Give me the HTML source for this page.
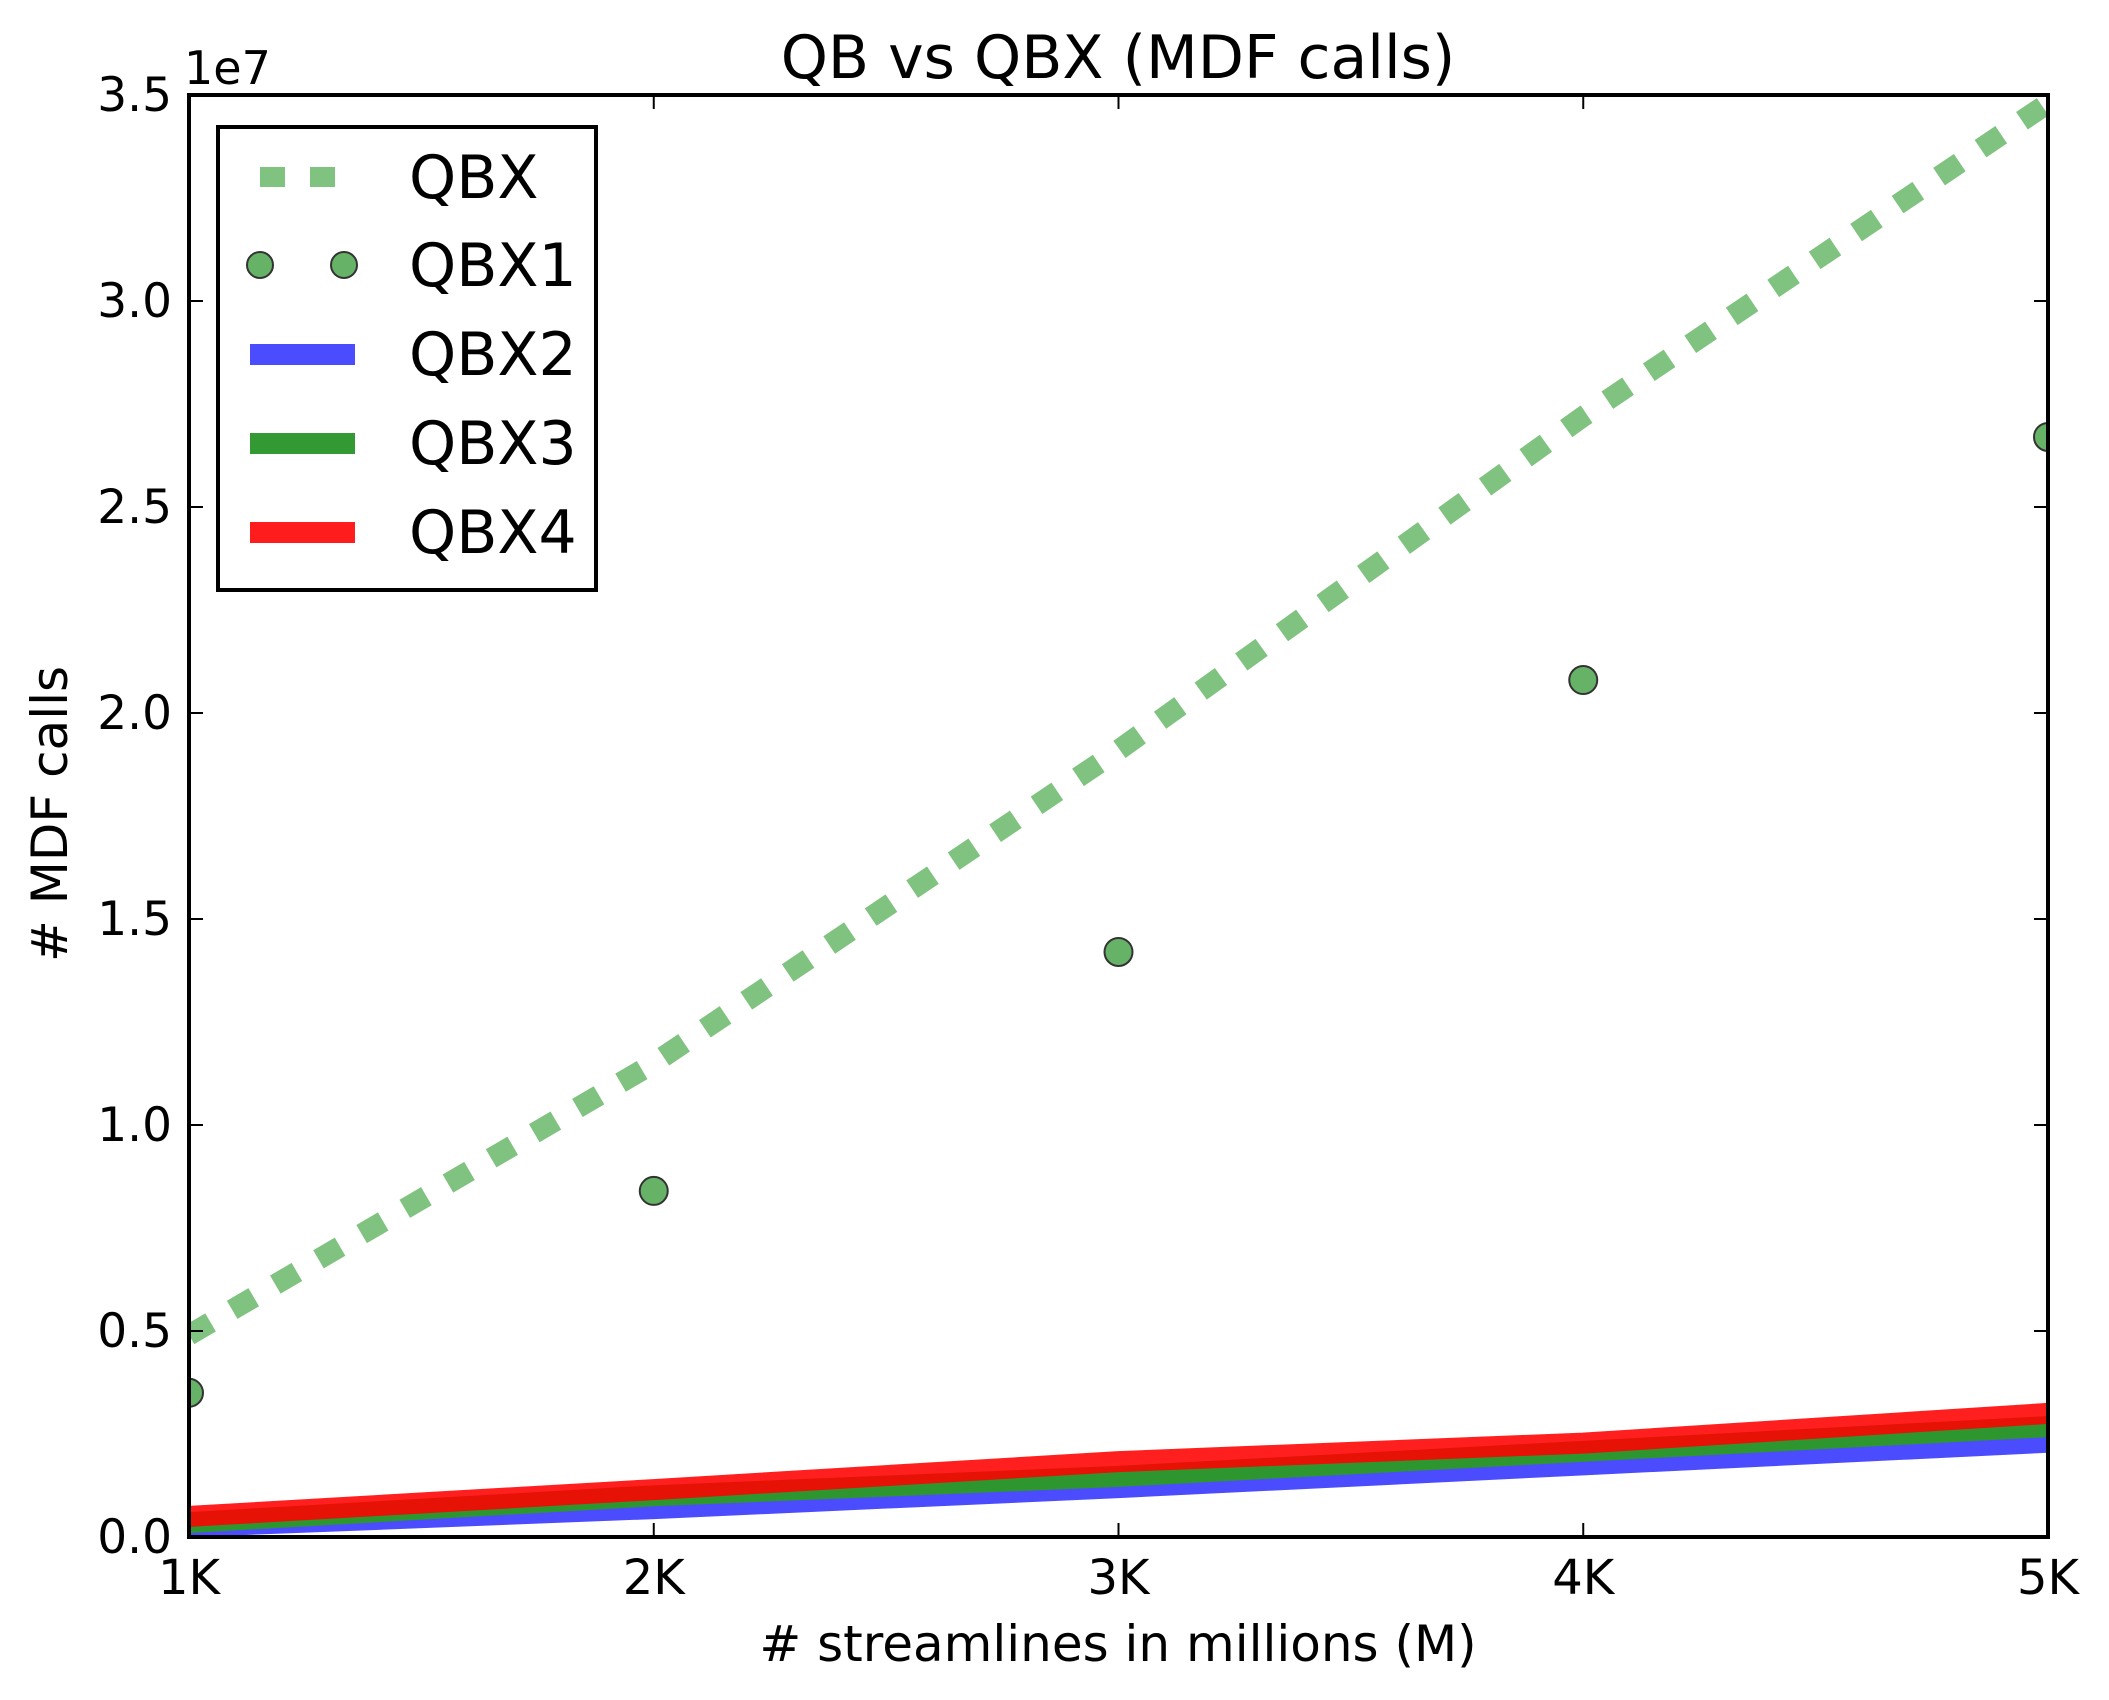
<!DOCTYPE html>
<html><head><meta charset="utf-8"><style>
html,body{margin:0;padding:0;background:#fff}
svg{display:block;font-family:"DejaVu Sans","Liberation Sans",sans-serif}
</style></head><body>
<svg id="chart" width="2109" height="1700" viewBox="0 0 2109 1700" xmlns="http://www.w3.org/2000/svg">
<rect width="2109" height="1700" fill="#fff"/>
<g id="series"></g>
<g id="axes"></g>
<text x="1118" y="78" font-size="60" text-anchor="middle">QB vs QBX (MDF calls)</text>
<text x="1118" y="1661" font-size="50" text-anchor="middle"># streamlines in millions (M)</text>
<text x="0" y="0" font-size="50" text-anchor="middle" transform="translate(67,814) rotate(-90)"># MDF calls</text>
<text x="184" y="84" font-size="46">1e7</text>
<g id="legend"></g>
</svg>
<script>
const categories = [1, 2, 3, 4, 5];
const xTickLabels = ["1K", "2K", "3K", "4K", "5K"];
const yTicks = [0, 0.5e7, 1.0e7, 1.5e7, 2.0e7, 2.5e7, 3.0e7, 3.5e7];
const yTickLabels = ["0.0", "0.5", "1.0", "1.5", "2.0", "2.5", "3.0", "3.5"];
const qbx = [4.9e6, 11.5e6, 19.1e6, 27.2e6, 34.8e6];
const qbx1 = [3.5e6, 8.4e6, 14.2e6, 20.8e6, 26.7e6];
const qbx2 = [0.25e6, 0.69e6, 1.2e6, 1.75e6, 2.3e6];
const qbx3 = [0.35e6, 1.0e6, 1.47e6, 2.08e6, 2.68e6];
const qbx4 = [0.5e6, 1.15e6, 1.83e6, 2.28e6, 3.0e6];

const L = 189, R = 2048, T = 95, B = 1537;
const xMin = 1, xMax = 5, yMin = 0, yMax = 3.5e7;
const NS = "http://www.w3.org/2000/svg";
function sx(v){return L + (v - xMin) / (xMax - xMin) * (R - L);}
function sy(v){return B - (v - yMin) / (yMax - yMin) * (B - T);}
function mk(tag, attrs, parent){
  const e = document.createElementNS(NS, tag);
  for (const k in attrs) e.setAttribute(k, attrs[k]);
  parent.appendChild(e);
  return e;
}
const series = document.getElementById('series');
const axes = document.getElementById('axes');
const legend = document.getElementById('legend');

const clip = mk('clipPath', {id:'plotclip'}, series);
mk('rect', {x:L, y:T, width:R-L, height:B-T}, clip);
const plot = mk('g', {'clip-path':'url(#plotclip)'}, series);



function pts(arr){return arr.map((v,i)=>sx(categories[i]).toFixed(1)+','+sy(v).toFixed(1)).join(' ');}
function line(arr, color, name, extra){
  const p = mk('polyline', Object.assign({points:pts(arr), fill:'none', stroke:color, 'stroke-width':21, 'stroke-linejoin':'round'}, extra||{}), plot);
  
  
}
line(qbx2, '#4c4cff', 'qbx2-line');
line(qbx3, '#2e962e', 'qbx3-line');
line(qbx4, 'rgba(255,0,0,0.88)', 'qbx4-line');
line(qbx, '#80c280', 'qbx-line', {'stroke-dasharray':'25 25', 'stroke-linecap':'butt'});
qbx1.forEach((v,i)=>{
  const c = mk('circle', {cx:sx(categories[i]), cy:sy(v), r:14, fill:'#66b266', stroke:'#333', 'stroke-width':2}, plot);
  
  
});

const frame = mk('rect', {x:L, y:T, width:R-L, height:B-T, fill:'none', stroke:'#000', 'stroke-width':4}, axes);


categories.forEach((c,i)=>{
  const x = sx(c);
  const t1 = mk('line', {x1:x, y1:B, x2:x, y2:B-14, stroke:'#000', 'stroke-width':2}, axes);
  
  
  const t2 = mk('line', {x1:x, y1:T, x2:x, y2:T+14, stroke:'#000', 'stroke-width':2}, axes);
  
  
  const tx = mk('text', {x:x, y:1594, 'font-size':48, 'text-anchor':'middle'}, axes);
  tx.textContent = xTickLabels[i];
  
  
});
yTicks.forEach((v,i)=>{
  const y = sy(v);
  const t1 = mk('line', {x1:L, y1:y, x2:L+14, y2:y, stroke:'#000', 'stroke-width':2}, axes);
  
  
  const t2 = mk('line', {x1:R, y1:y, x2:R-14, y2:y, stroke:'#000', 'stroke-width':2}, axes);
  
  
  const tx = mk('text', {x:172, y:y+16, 'font-size':47, 'text-anchor':'end'}, axes);
  tx.textContent = yTickLabels[i];
  
  
});

const box = mk('rect', {x:218, y:127, width:378, height:463, fill:'#fff', stroke:'#000', 'stroke-width':4}, legend);


const names = ['QBX','QBX1','QBX2','QBX3','QBX4'];
const ys = [177, 265, 354, 443, 532];
names.forEach((n,i)=>{
  const y = ys[i];
  const g = mk('g', {}, legend);
  
  
  if (i === 0) {
    mk('rect', {x:260, y:y-10, width:25, height:20, fill:'#80c280'}, g);
    mk('rect', {x:310, y:y-10, width:25, height:20, fill:'#80c280'}, g);
  } else if (i === 1) {
    mk('circle', {cx:260, cy:y, r:13, fill:'#66b266', stroke:'#333', 'stroke-width':2}, g);
    mk('circle', {cx:344, cy:y, r:13, fill:'#66b266', stroke:'#333', 'stroke-width':2}, g);
  } else {
    const col = ['#4c4cff','#339933','#ff1c1c'][i-2];
    mk('rect', {x:250, y:y-10, width:105, height:21, fill:col}, g);
  }
  const t = mk('text', {x:409, y:y+21, 'font-size':60}, g);
  t.textContent = n;
});
</script>
</body></html>
